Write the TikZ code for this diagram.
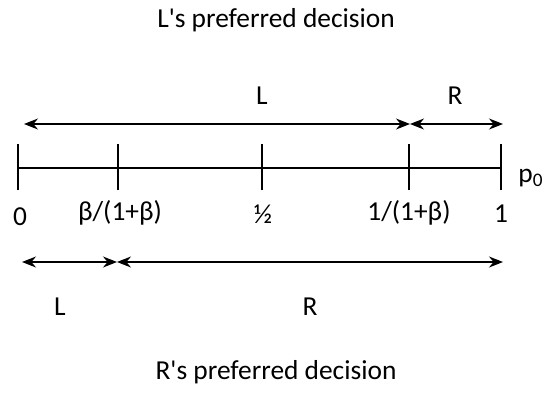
\documentclass[tikz,border=0pt]{standalone}
\usepackage{fontspec}
\setmainfont{Carlito}
\usetikzlibrary{arrows.meta}
\begin{document}
\begin{tikzpicture}[x=0.5pt,y=-0.5pt,
  lbl/.style={inner sep=0pt,font=\fontsize{13.7}{16}\selectfont},
  axisline/.style={line width=0.8pt},
  tick/.style={line width=0.7pt},
  dblarrow/.style={line width=0.6pt,{Stealth[length=7pt,width=5.5pt]}-{Stealth[length=7pt,width=5.5pt]}}]
\useasboundingbox (0,0) rectangle (547,392);
% axis and ticks
\coordinate (a0) at (18,168);
\coordinate (a1) at (118,168);
\coordinate (a2) at (262,168);
\coordinate (a3) at (409,168);
\coordinate (a4) at (501,168);
\draw[axisline] (a0) -- (a4);
\foreach \i in {0,...,4}{
  \draw[tick] ([yshift=-11pt]a\i) -- ([yshift=12pt]a\i);
}
% labels
\node[lbl] (t) at (276,20) {L\textquotesingle s preferred decision};
\node[lbl] (b) at (276,372) {R\textquotesingle s preferred decision};
\node[lbl] (p0) at (531,178) {p\textsubscript{0}};
\node[lbl] (l0) at (20,217) {0};
\node[lbl] (l1) at (120,213) {β/(1+β)};
\node[lbl] (l2) at (263,214) {½};
\node[lbl] (l3) at (409,213) {1/(1+β)};
\node[lbl] (l4) at (501,214) {1};
% top arrows
\coordinate (tl) at (24,124);
\coordinate (tm) at (410,124);
\coordinate (tr) at (503,124);
\draw[dblarrow] (tl) -- (tm);
\draw[dblarrow] (tm) -- (tr);
\node[lbl] (tL) at (262,96) {L};
\node[lbl] (tR) at (455,96) {R};
% bottom arrows
\coordinate (bl) at (22,262);
\coordinate (bm) at (117,262);
\coordinate (br) at (503,262);
\draw[dblarrow] (bl) -- (bm);
\draw[dblarrow] (bm) -- (br);
\node[lbl] (bL) at (60,307) {L};
\node[lbl] (bR) at (310,307) {R};
\end{tikzpicture}
\end{document}
